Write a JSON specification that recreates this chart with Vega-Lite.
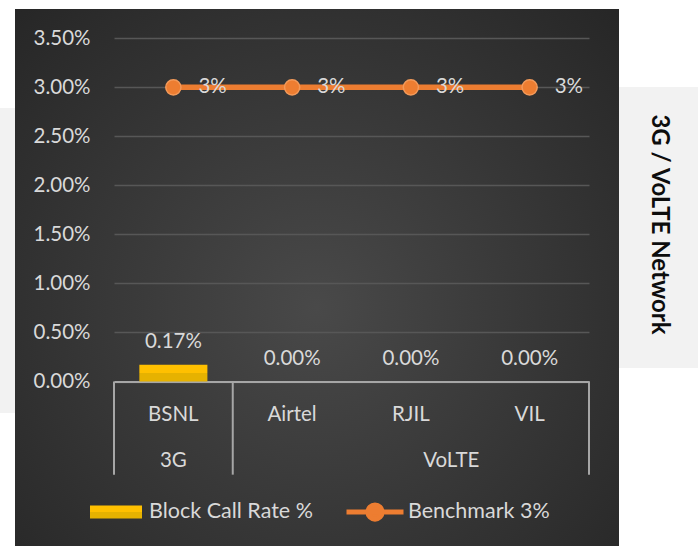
{
  "$schema": "https://vega.github.io/schema/vega-lite/v6.json",
  "background": "#ffffff",
  "padding": 0,
  "spacing": 0,
  "config": {
    "view": {"stroke": null},
    "font": "Lato",
    "concat": {"spacing": 0}
  },
  "datasets": {
    "ops": [
      {"op": "BSNL", "group": "3G", "rate": 0.0017, "bench": 0.03, "rate_label": "0.17%", "bench_label": "3%"},
      {"op": "Airtel", "group": "VoLTE", "rate": 0.0, "bench": 0.03, "rate_label": "0.00%", "bench_label": "3%"},
      {"op": "RJIL", "group": "VoLTE", "rate": 0.0, "bench": 0.03, "rate_label": "0.00%", "bench_label": "3%"},
      {"op": "VIL", "group": "VoLTE", "rate": 0.0, "bench": 0.03, "rate_label": "0.00%", "bench_label": "3%"}
    ],
    "groups": [
      {"group": "3G", "first": "BSNL", "last": "BSNL", "label_at": "BSNL"},
      {"group": "VoLTE", "first": "Airtel", "last": "VIL", "label_at": "RJIL"}
    ]
  },
  "hconcat": [
    {
      "spacing": 0,
      "vconcat": [
        {"width": 15, "height": 108, "data": {"values": []}, "mark": "text"},
        {"width": 15, "height": 305, "view": {"fill": "#f2f2f2", "stroke": null}, "data": {"values": []}, "mark": "text"}
      ]
    },
    {
      "spacing": 0,
      "vconcat": [
        {"width": 604, "height": 9, "data": {"values": []}, "mark": "text"},
        {
          "width": 604,
          "height": 537,
          "view": {
            "stroke": null,
            "fill": {
              "gradient": "radial",
              "x1": 0.5, "y1": 0.55, "r1": 0,
              "x2": 0.5, "y2": 0.55, "r2": 0.75,
              "stops": [
                {"offset": 0, "color": "#494949"},
                {"offset": 1, "color": "#242424"}
              ]
            }
          },
          "layer": [
            {
              "data": {"name": "ops"},
              "mark": {
                "type": "bar", "width": {"band": 0.573},
                "color": {
                  "gradient": "linear", "x1": 0, "y1": 0, "x2": 0, "y2": 1,
                  "stops": [
                    {"offset": 0, "color": "#ffc000"},
                    {"offset": 0.48, "color": "#ffc000"},
                    {"offset": 0.52, "color": "#e6b200"},
                    {"offset": 1, "color": "#e6b200"}
                  ]
                }
              },
              "encoding": {
                "x": {
                  "field": "op", "type": "nominal", "sort": null,
                  "scale": {"domain": ["BSNL", "Airtel", "RJIL", "VIL"], "range": [99, 574], "paddingInner": 0, "paddingOuter": 0},
                  "axis": {
                    "orient": "bottom", "offset": -164.5, "title": null,
                    "domainColor": "#a6a6a6", "domainWidth": 2,
                    "ticks": false, "tickSize": 0, "grid": false,
                    "labelAngle": 0, "labelFont": "Lato", "labelFontSize": 20.5, "labelColor": "#d9d9d9",
                    "labelBaseline": "middle", "labelPadding": 33
                  }
                },
                "y": {
                  "field": "rate", "type": "quantitative",
                  "scale": {"domain": [0, 0.035], "range": [372.5, 29.3], "nice": false, "zero": false},
                  "axis": {
                    "orient": "left", "offset": -99, "title": null,
                    "values": [0, 0.005, 0.01, 0.015, 0.02, 0.025, 0.03, 0.035],
                    "format": ".2%", "domain": false, "ticks": false, "tickSize": 0,
                    "grid": true, "gridColor": "#575757", "gridWidth": 1.5,
                    "labelFont": "Lato", "labelFontSize": 20.5, "labelColor": "#d9d9d9", "labelPadding": 24
                  }
                },
                "opacity": {
                  "datum": "Block Call Rate %",
                  "scale": {"range": [1]},
                  "legend": {
                    "orient": "none", "legendX": 89, "legendY": 485, "title": null, "padding": 0,
                    "symbolType": "M-1,-0.25H1V0.25H-1Z", "symbolSize": 2704,
                    "labelFont": "Lato", "labelFontSize": 21.5, "labelColor": "#d9d9d9", "labelOffset": 6, "labelLimit": 400,
                    "encode": {"symbols": {"update": {"fill": {"value": "#e8b800"}, "stroke": {"value": "#e8b800"}, "strokeWidth": {"value": 0}, "opacity": {"value": 1}}}}
                  }
                }
              }
            },
            {
              "data": {"name": "ops"},
              "mark": {"type": "text", "dy": -23, "baseline": "middle", "align": "center", "font": "Lato", "fontSize": 20.5, "color": "#d9d9d9"},
              "encoding": {
                "x": {"field": "op", "type": "nominal", "sort": null},
                "y": {"field": "rate", "type": "quantitative"},
                "text": {"field": "rate_label"}
              }
            },
            {
              "data": {"name": "ops"},
              "mark": {"type": "line", "strokeWidth": 5.5},
              "encoding": {
                "x": {"field": "op", "type": "nominal", "sort": null},
                "y": {"field": "bench", "type": "quantitative"},
                "stroke": {
                  "datum": "Benchmark 3%",
                  "scale": {"range": ["#ed7d31"]},
                  "legend": {
                    "orient": "none", "legendX": 344, "legendY": 481, "title": null, "padding": 0,
                    "symbolType": "M-1,0H1M-0.25,0A0.25,0.25 0 1 1 0.25,0A0.25,0.25 0 1 1 -0.25,0",
                    "symbolSize": 3249, "symbolStrokeWidth": 5,
                    "labelFont": "Lato", "labelFontSize": 21.5, "labelColor": "#d9d9d9", "labelOffset": 2, "labelLimit": 400,
                    "encode": {"symbols": {"update": {"fill": {"value": "#ed7d31"}, "stroke": {"value": "#ed7d31"}, "strokeWidth": {"value": 5}}}}
                  }
                }
              }
            },
            {
              "data": {"name": "ops"},
              "mark": {"type": "point", "filled": true, "size": 230, "fill": "#ed7d31", "stroke": "#f39a5a", "strokeWidth": 1.5, "opacity": 1},
              "encoding": {
                "x": {"field": "op", "type": "nominal", "sort": null},
                "y": {"field": "bench", "type": "quantitative"}
              }
            },
            {
              "data": {"name": "ops"},
              "mark": {"type": "text", "dx": 25, "align": "left", "baseline": "middle", "font": "Lato", "fontSize": 20.5, "color": "#d9d9d9"},
              "encoding": {
                "x": {"field": "op", "type": "nominal", "sort": null},
                "y": {"field": "bench", "type": "quantitative"},
                "text": {"field": "bench_label"}
              }
            },
            {
              "data": {"name": "groups"},
              "mark": {"type": "rule", "color": "#a6a6a6", "strokeWidth": 2},
              "encoding": {
                "x": {"field": "first", "type": "nominal", "bandPosition": 0},
                "y": {"datum": 0, "type": "quantitative"},
                "y2": {"datum": -0.0095}
              }
            },
            {
              "data": {"name": "groups"},
              "transform": [{"filter": "datum.group === 'VoLTE'"}],
              "mark": {"type": "rule", "color": "#a6a6a6", "strokeWidth": 2},
              "encoding": {
                "x": {"field": "last", "type": "nominal", "bandPosition": 1},
                "y": {"datum": 0, "type": "quantitative"},
                "y2": {"datum": -0.0095}
              }
            },
            {
              "data": {"name": "groups"},
              "transform": [{"filter": "datum.group === '3G'"}],
              "mark": {"type": "text", "align": "center", "baseline": "middle", "font": "Lato", "fontSize": 20.5, "color": "#d9d9d9"},
              "encoding": {
                "x": {"field": "label_at", "type": "nominal", "bandPosition": 0.5},
                "y": {"datum": -0.0081, "type": "quantitative"},
                "text": {"field": "group"}
              }
            },
            {
              "data": {"name": "groups"},
              "transform": [{"filter": "datum.group === 'VoLTE'"}],
              "mark": {"type": "text", "align": "center", "baseline": "middle", "font": "Lato", "fontSize": 20.5, "color": "#d9d9d9"},
              "encoding": {
                "x": {"field": "label_at", "type": "nominal", "bandPosition": 0.84},
                "y": {"datum": -0.0081, "type": "quantitative"},
                "text": {"field": "group"}
              }
            }
          ]
        }
      ]
    },
    {
      "spacing": 0,
      "vconcat": [
        {"width": 79, "height": 87, "data": {"values": []}, "mark": "text"},
        {
          "width": 79,
          "height": 281,
          "view": {"fill": "#f2f2f2", "stroke": null},
          "data": {"values": [{"t": "3G / VoLTE Network"}]},
          "mark": {"type": "text", "angle": 90, "align": "center", "baseline": "middle", "dx": -3, "font": "Lato", "fontWeight": "bold", "fontSize": 24, "color": "#0d0d0d"},
          "encoding": {"text": {"field": "t"}}
        }
      ]
    }
  ]
}
